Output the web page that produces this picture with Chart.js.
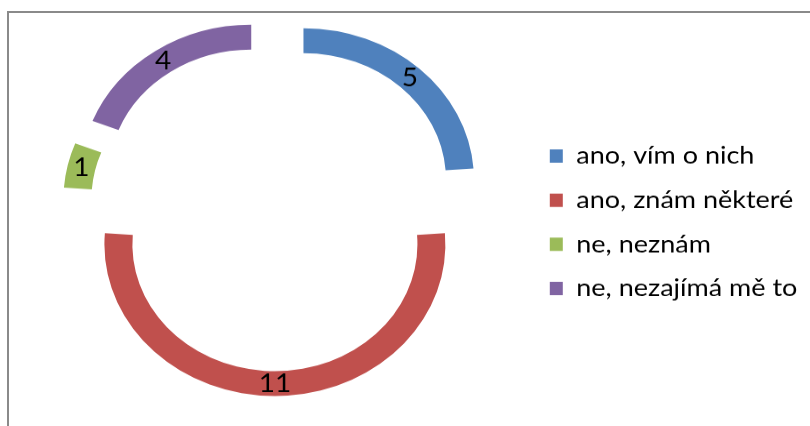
<!DOCTYPE html>
<html>
<head>
<meta charset="utf-8">
<title>Doughnut</title>
<script src="https://cdn.jsdelivr.net/npm/chart.js@4.4.1/dist/chart.umd.min.js"></script>
<style>
    html, body { margin: 0; padding: 0; background: #fff; }
    body { width: 810px; height: 426px; overflow: hidden; position: relative; }
    .frame {
        position: absolute; left: 7px; top: 11px; width: 900px; height: 500px;
        border-top: 2px solid #8a8a8a; border-left: 2px solid #8a8a8a;
    }
    /* the reference is squeezed vertically, so the canvas is too */
    #chart { position: absolute; left: 0; top: 0; transform: scaleY(0.889); transform-origin: 0 0; }
</style>
</head>
<body>
<div class="frame"></div>
<canvas id="chart" width="810" height="479" style="width:810px;height:479px"></canvas>
<script>
var labels = ['ano, vím o nich', 'ano, znám některé', 'ne, neznám', 'ne, nezajímá mě to'];
var values = [5, 11, 1, 4];
var colors = ['#4f81bd', '#c0504d', '#9bbb59', '#8064a2'];

var EXPLODE = 42;
var FONT = 'Lato';

// doughnut whose slices are pulled out along their middle angle (Excel "explosion")
class ExplodedDoughnutController extends Chart.DoughnutController {
    draw() {
        var ctx = this.chart.ctx;
        var area = this.chart.chartArea;
        this._cachedMeta.data.forEach(function (arc) {
            var mid = (arc.startAngle + arc.endAngle) / 2;
            ctx.save();
            ctx.translate(Math.cos(mid) * EXPLODE, Math.sin(mid) * EXPLODE);
            arc.draw(ctx, area);
            ctx.restore();
        });
    }
}
ExplodedDoughnutController.id = 'explodedDoughnut';
ExplodedDoughnutController.defaults = Chart.DoughnutController.defaults;
ExplodedDoughnutController.overrides = Chart.DoughnutController.overrides;
Chart.register(ExplodedDoughnutController);

var valueLabels = {
    id: 'valueLabels',
    afterDatasetsDraw: function (chart) {
        var ctx = chart.ctx;
        var meta = chart.getDatasetMeta(0);
        ctx.save();
        ctx.font = '28px ' + FONT;
        ctx.fillStyle = '#000';
        ctx.textAlign = 'center';
        ctx.textBaseline = 'middle';
        meta.data.forEach(function (arc, i) {
            var mid = (arc.startAngle + arc.endAngle) / 2;
            var p = arc.tooltipPosition(true);
            ctx.fillText(String(values[i]), p.x + Math.cos(mid) * EXPLODE, p.y + Math.sin(mid) * EXPLODE);
        });
        ctx.restore();
    }
};

var chart = new Chart(document.getElementById('chart').getContext('2d'), {
    type: 'explodedDoughnut',
    data: {
        labels: labels,
        datasets: [{
            data: values,
            backgroundColor: colors,
            borderWidth: 0,
            radius: 170.5,
            cutout: '83.6%'
        }]
    },
    options: {
        responsive: false,
        devicePixelRatio: 1,
        animation: false,
        events: [],
        layout: { padding: { left: 22.6, right: 2.6, top: 0, bottom: 13 } },
        plugins: {
            tooltip: { enabled: false },
            legend: {
                position: 'right',
                title: { display: true, text: '', font: { size: 10 }, padding: { top: 0, bottom: 22 } },
                labels: {
                    color: '#000',
                    boxWidth: 13,
                    boxHeight: 15,
                    padding: 22.6,
                    font: { family: FONT, size: 27 }
                }
            }
        }
    },
    plugins: [valueLabels]
});
</script>
</body>
</html>
